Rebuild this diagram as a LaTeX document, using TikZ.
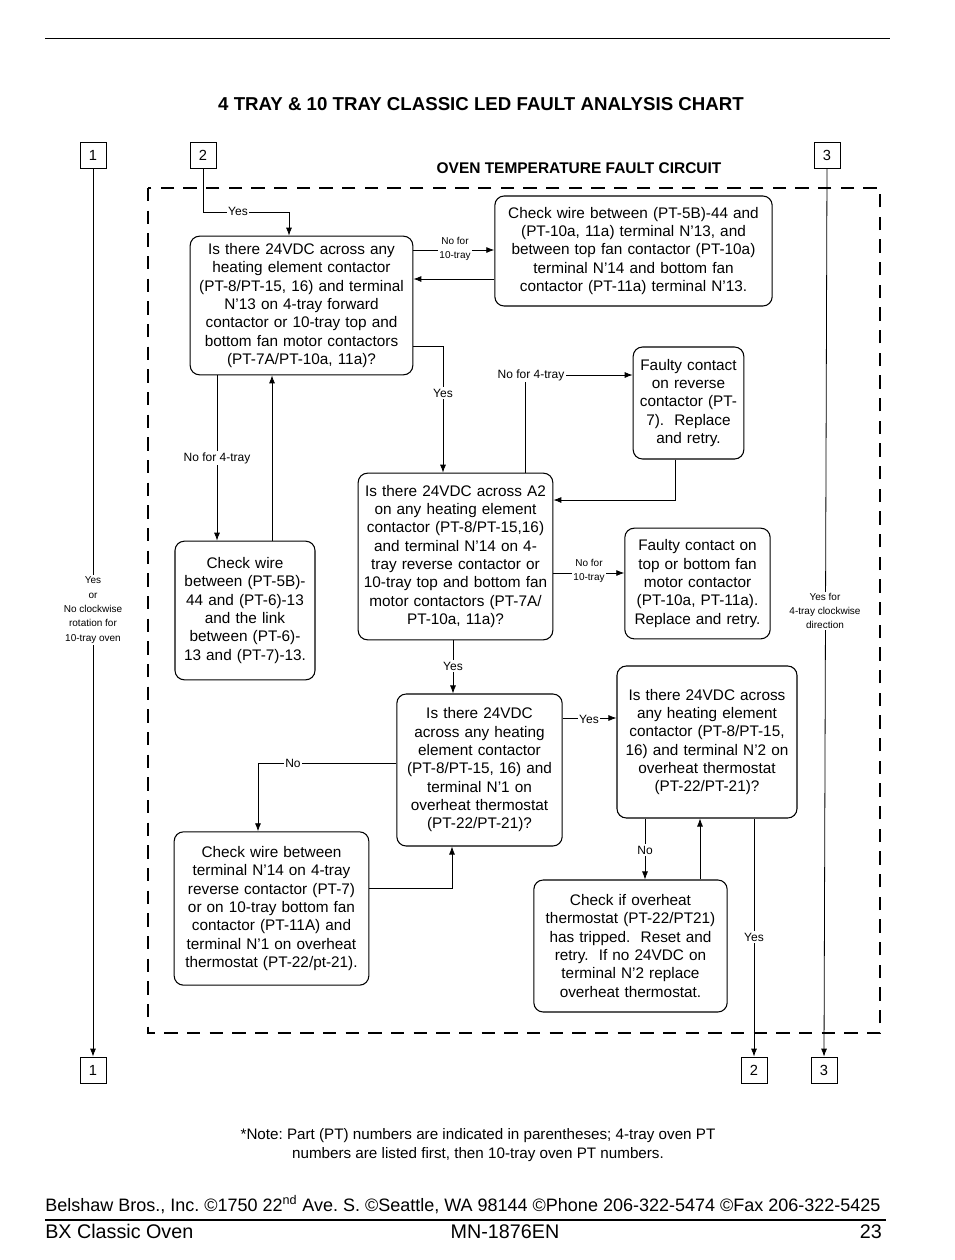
\documentclass[tikz,border=0pt]{standalone}
\usepackage{fontspec}
\setmainfont{Liberation Sans}
\usetikzlibrary{arrows.meta}
\frenchspacing
\begin{document}
\begin{tikzpicture}[x=0.75pt,y=-0.75pt,
  box/.style={draw, line width=0.8pt, rounded corners=7pt, align=center, inner sep=0pt,
    font=\fontsize{11.5}{13.75}\selectfont},
  lbl/.style={font=\fontsize{7.5}{10.8}\selectfont, fill=white, inner sep=1pt, align=center},
  lblb/.style={font=\fontsize{9}{11}\selectfont, fill=white, inner sep=1pt, align=center},
  arr/.style={line width=0.6pt, -{Latex[length=6pt,width=4.5pt]}},
  ln/.style={line width=0.6pt},
  numbox/.style={draw, line width=0.6pt, minimum size=19.5pt, inner sep=0pt,
    font=\fontsize{11}{13}\selectfont}]
\useasboundingbox (0,0) rectangle (954,1260);
\fill[white] (0,0) rectangle (954,1260);

% top rule and titles
\draw[line width=0.6pt] (45,38) -- (890,38);
\node[font=\bfseries\fontsize{14}{16}\selectfont] (title) at (481,104) {4 TRAY \& 10 TRAY CLASSIC LED FAULT ANALYSIS CHART};
\node[font=\bfseries\fontsize{11.6}{13}\selectfont] (sub) at (579,168) {OVEN TEMPERATURE FAULT CIRCUIT};

% dashed frame
\draw[line width=2.2pt, dash pattern=on 10pt off 7pt] (148,188) rectangle (880,1033);

% off-page connector boxes
\node[numbox] (t1) at (93,155) {1};
\node[numbox] (t2) at (203,155) {2};
\node[numbox] (t3) at (827,155) {3};
\node[numbox] (b1) at (93,1070) {1};
\node[numbox] (b2) at (754,1070) {2};
\node[numbox] (b3) at (824,1070) {3};

% boxes
\node[box, text width=167pt, minimum height=104pt] (A) at (301.5,305.5)
 {Is there 24VDC across any\\heating element contactor\\(PT-8/PT-15, 16) and terminal\\N'13 on 4-tray forward\\contactor or 10-tray top and\\bottom fan motor contactors\\(PT-7A/PT-10a, 11a)?};
\node[box, text width=208pt, minimum height=82.5pt] (B) at (633.5,251)
 {Check wire between (PT-5B)-44 and\\(PT-10a, 11a) terminal N'13, and\\between top fan contactor (PT-10a)\\terminal N'14 and bottom fan\\contactor (PT-11a) terminal N'13.};
\node[box, text width=83pt, minimum height=84pt] (C) at (688.5,403)
 {Faulty contact\\on reverse\\contactor (PT-\\7).~ Replace\\and retry.};
\node[box, text width=146pt, minimum height=125pt] (D) at (455.5,556.5)
 {Is there 24VDC across A2\\on any heating element\\contactor (PT-8/PT-15,16)\\and terminal N'14 on 4-\\tray reverse contactor or\\10-tray top and bottom fan\\motor contactors (PT-7A/\\PT-10a, 11a)?};
\node[box, text width=109pt, minimum height=83pt] (E) at (697.5,583.5)
 {Faulty contact on\\top or bottom fan\\motor contactor\\(PT-10a, PT-11a).\\Replace and retry.};
\node[box, text width=105pt, minimum height=104pt] (F) at (245,610.5)
 {Check wire\\between (PT-5B)-\\44 and (PT-6)-13\\and the link\\between (PT-6)-\\13 and (PT-7)-13.};
\node[box, text width=124pt, minimum height=114pt] (G) at (479.5,770)
 {Is there 24VDC\\across any heating\\element contactor\\(PT-8/PT-15, 16) and\\terminal N'1 on\\overheat thermostat\\(PT-22/PT-21)?};
\node[box, text width=135pt, minimum height=114pt] (H) at (707,742)
 {Is there 24VDC across\\any heating element\\contactor (PT-8/PT-15,\\16) and terminal N'2 on\\overheat thermostat\\(PT-22/PT-21)?};
\node[box, text width=146pt, minimum height=115pt] (I) at (271.5,908.5)
 {Check wire between\\terminal N'14 on 4-tray\\reverse contactor (PT-7)\\or on 10-tray bottom fan\\contactor (PT-11A) and\\terminal N'1 on overheat\\thermostat (PT-22/pt-21).};
\node[box, text width=145pt, minimum height=99pt] (J) at (630.5,946)
 {Check if overheat\\thermostat (PT-22/PT21)\\has tripped.~ Reset and\\retry.~ If no 24VDC on\\terminal N'2 replace\\overheat thermostat.};

% connectors
\draw[arr] (t2.south) -- (203,212) -- (289,212) -- (A.north -| 289,0);
\node[lblb] (l1) at (238,211) {Yes};

\draw[arr] (A.east |- 0,250) -- (B.west |- 0,250);
\node[lbl] (l2) at (455,249) {No for\\10-tray};
\draw[arr] (B.west |- 0,279) -- (A.east |- 0,279);

\draw[arr] (A.east |- 0,346) -- (443,346) -- (D.north -| 443,0);
\node[lblb] (l3) at (443,393) {Yes};

\draw[arr] (D.north -| 525,0) -- (525,375) -- (C.west |- 0,375);
\node[lblb] (l4) at (531,375) {No for 4-tray};

\draw[arr] (C.south -| 675,0) -- (675,500) -- (D.east |- 0,500);

\draw[arr] (D.east |- 0,573) -- (E.west |- 0,573);
\node[lbl] (l5) at (589,571) {No for\\10-tray};

\draw[arr] (D.south -| 453,0) -- (G.north -| 453,0);
\node[lblb] (l6) at (453,666) {Yes};

\draw[arr] (A.south -| 217,0) -- (F.north -| 217,0);
\node[lblb] (l7) at (217,458) {No for 4-tray};
\draw[arr] (F.north -| 272,0) -- (A.south -| 272,0);

\draw[arr] (G.west |- 0,763) -- (258,763) -- (I.north -| 258,0);
\node[lblb] (l8) at (293,763) {No};
\draw[arr] (I.east |- 0,888) -- (452,888) -- (G.south -| 452,0);

\draw[arr] (G.east |- 0,718) -- (H.west |- 0,718);
\node[lblb] (l9) at (589,719) {Yes};

\draw[arr] (H.south -| 645,0) -- (J.north -| 645,0);
\node[lblb] (l10) at (645,850) {No};
\draw[arr] (J.north -| 700,0) -- (H.south -| 700,0);

\draw[arr] (H.south -| 754,0) -- (b2.north);
\node[lblb] (l11) at (754,937) {Yes};

\draw[arr] (t1.south) -- (b1.north);
\node[lbl] (l12) at (93,610) {Yes\\or\\No clockwise\\rotation for\\10-tray oven};

\draw[arr] (t3.south) -- (b3.north);
\node[lbl] (l13) at (825,611) {Yes for\\4-tray clockwise\\direction};

% note and footer
\node[align=center, font=\fontsize{11.4}{14.2}\selectfont] (note) at (478,1145)
 {*Note: Part (PT) numbers are indicated in parentheses; 4-tray oven PT\\numbers are listed first, then 10-tray oven PT numbers.};
\node[anchor=base west, inner sep=0pt, font=\fontsize{13.5}{15}\selectfont] (addr) at (45,1211)
 {Belshaw Bros., Inc. ©1750 22\textsuperscript{nd} Ave. S. ©Seattle, WA 98144 ©Phone 206-322-5474 ©Fax 206-322-5425};
\draw[line width=1.4pt] (45,1220) -- (886,1220);
\node[anchor=base west, inner sep=0pt, font=\fontsize{14.8}{16}\selectfont] (f1) at (45,1238) {BX Classic Oven};
\node[anchor=base, inner sep=0pt, font=\fontsize{14.8}{16}\selectfont] (f2) at (505,1238) {MN-1876EN};
\node[anchor=base east, inner sep=0pt, font=\fontsize{14.8}{16}\selectfont] (f3) at (882,1238) {23};
\end{tikzpicture}
\end{document}
